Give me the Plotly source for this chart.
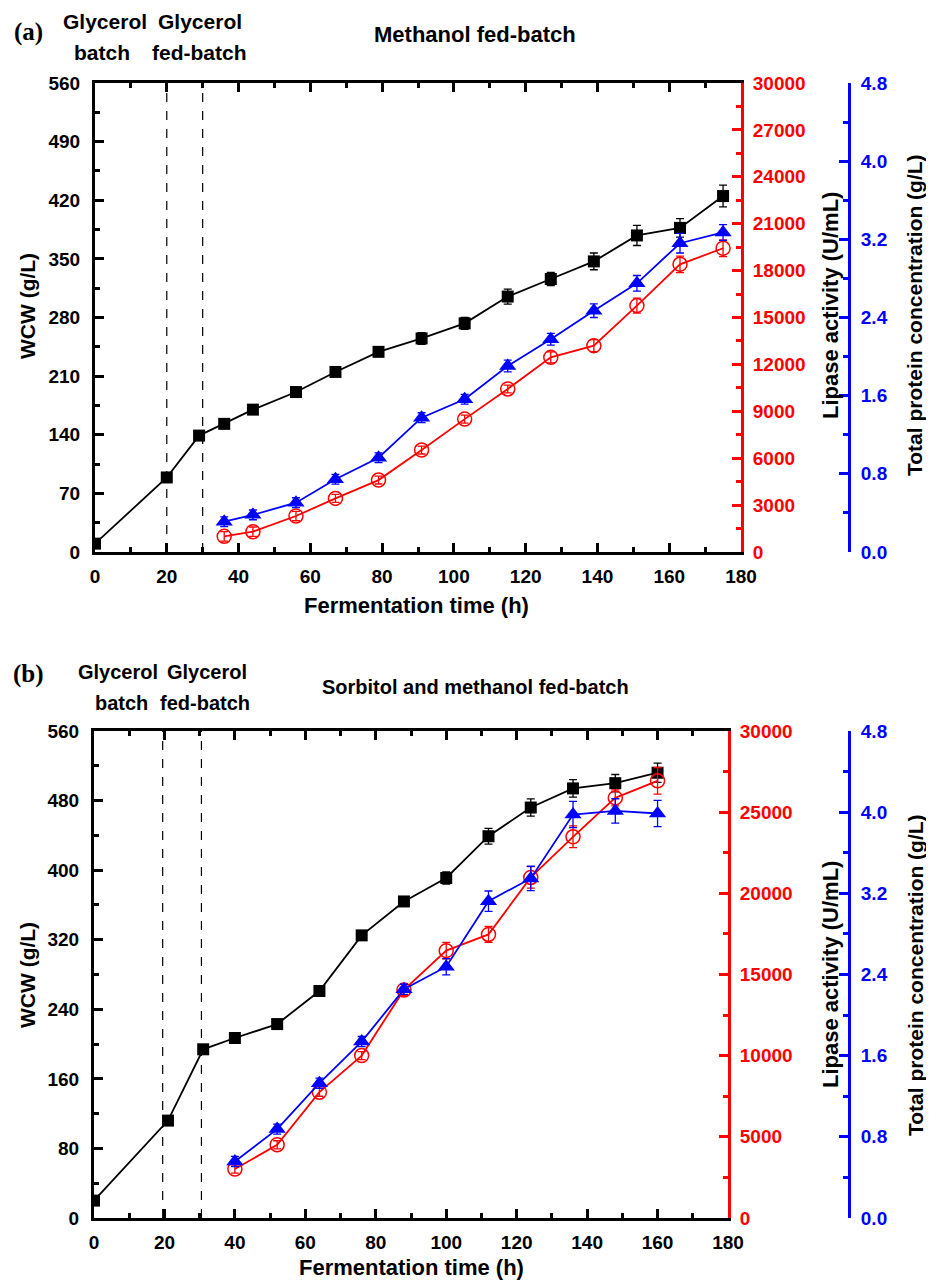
import plotly.graph_objects as go

W, H = 934, 1282
PAGE_MARGIN = 8          # default <body> margin of the written page
FW, FH = W - PAGE_MARGIN, H - PAGE_MARGIN

# ---------------- data: panel (a) methanol fed-batch ----------------
time_a = [0, 20, 29, 36, 44, 56, 67, 79, 91, 103, 115, 127, 139, 151, 163, 175]
wcw_a = [10, 89, 139, 153, 170, 191, 215, 239, 255, 273, 305, 326, 347, 378, 387, 425]
wcw_err_a = [2, 3, 3, 3, 3, 4, 4, 5, 7, 7, 9, 8, 10, 12, 11, 13]

time_a_prod = [36, 44, 56, 67, 79, 91, 103, 115, 127, 139, 151, 163, 175]
lipase_a = [1000, 1300, 2300, 3430, 4600, 6520, 8500, 10430, 12450, 13200, 15760, 18400, 19430]
lipase_err_a = [300, 300, 300, 250, 250, 250, 250, 250, 350, 380, 480, 530, 530]
protein_a = [0.31, 0.38, 0.505, 0.745, 0.965, 1.375, 1.563, 1.904, 2.177, 2.47, 2.75, 3.16, 3.27]
protein_err_a = [0.05, 0.05, 0.05, 0.05, 0.05, 0.05, 0.05, 0.06, 0.06, 0.07, 0.08, 0.1, 0.08]

# ---------------- data: panel (b) sorbitol and methanol fed-batch ----------------
time_b = [0, 21, 31, 40, 52, 64, 76, 88, 100, 112, 124, 136, 148, 160]
wcw_b = [20, 112, 194, 207, 223, 261, 325, 364, 391, 439, 472, 494, 500, 512]
wcw_err_b = [2, 3, 3, 3, 3, 4, 4, 5, 7, 9, 10, 10, 10, 11]

time_b_prod = [40, 52, 64, 76, 88, 100, 112, 124, 136, 148, 160]
lipase_b = [3015, 4510, 7750, 10005, 14050, 16470, 17470, 20980, 23480, 25880, 26930]
lipase_err_b = [250, 250, 250, 250, 360, 510, 490, 660, 670, 490, 820]
protein_b = [0.557, 0.876, 1.329, 1.739, 2.254, 2.477, 3.123, 3.347, 3.977, 4.012, 3.987]
protein_err_b = [0.05, 0.05, 0.05, 0.05, 0.05, 0.08, 0.1, 0.12, 0.13, 0.12, 0.13]

phase_bounds_a = [20, 30]
phase_bounds_b = [19.5, 30.5]

FONT = "Liberation Sans, Arial, sans-serif"
SERIF = "Liberation Serif, Times New Roman, serif"


def px(x):
    return (x - PAGE_MARGIN) / FW


def py(y):
    return 1 - (y - PAGE_MARGIN) / FH


fig = go.Figure()


def add_panel(t, wcw, wcw_err, tp, lip, lip_err, prot, prot_err, xa, ya, ya2, ya3):
    fig.add_trace(go.Scatter(
        x=t, y=wcw, xaxis=xa, yaxis=ya, mode="lines+markers",
        line=dict(color="black", width=1.8),
        marker=dict(symbol="square", size=12, color="black"),
        error_y=dict(type="data", array=wcw_err, color="black", thickness=1.3, width=4),
        showlegend=False))
    fig.add_trace(go.Scatter(
        x=tp, y=lip, xaxis=xa, yaxis=ya2, mode="lines+markers",
        line=dict(color="#ff0000", width=1.8),
        marker=dict(symbol="circle-open", size=14, color="#ff0000", line=dict(width=1.5)),
        error_y=dict(type="data", array=lip_err, color="#ff0000", thickness=1.3, width=4),
        showlegend=False))
    fig.add_trace(go.Scatter(
        x=tp, y=prot, xaxis=xa, yaxis=ya3, mode="lines+markers",
        line=dict(color="#0000ff", width=1.8),
        marker=dict(symbol="triangle-up", size=15, color="#0000ff"),
        error_y=dict(type="data", array=prot_err, color="#0000ff", thickness=1.3, width=4),
        showlegend=False))


add_panel(time_a, wcw_a, wcw_err_a, time_a_prod, lipase_a, lipase_err_a,
          protein_a, protein_err_a, "x", "y", "y2", "y3")
add_panel(time_b, wcw_b, wcw_err_b, time_b_prod, lipase_b, lipase_err_b,
          protein_b, protein_err_b, "x2", "y4", "y5", "y6")

tickfont = dict(family=FONT, size=19, color="black", weight="bold")


def xaxis(domain, anchor):
    return dict(domain=domain, anchor=anchor, range=[0, 180], tickmode="linear", tick0=0, dtick=20,
                ticks="inside", ticklen=9, tickwidth=2.5, tickcolor="black",
                minor=dict(ticks="inside", ticklen=5, tickwidth=2.5, dtick=10, tick0=0, tickcolor="black"),
                showline=True, linewidth=3, linecolor="black", mirror="ticks",
                showgrid=False, zeroline=False, tickfont=tickfont, ticklabelstandoff=5)


def yleft(domain, anchor, dtick, top):
    return dict(domain=domain, anchor=anchor, range=[0, top], tickmode="linear", tick0=0, dtick=dtick,
                ticks="inside", ticklen=9, tickwidth=2.5, tickcolor="black",
                minor=dict(ticks="inside", ticklen=5, tickwidth=2.5, dtick=dtick / 2, tick0=0, tickcolor="black"),
                showline=True, linewidth=3, linecolor="black", showgrid=False, zeroline=False,
                tickfont=tickfont, ticklabelstandoff=8)


def yred(overlay, anchor, dtick):
    return dict(overlaying=overlay, anchor=anchor, side="right", range=[0, 30000],
                tickmode="linear", tick0=0, dtick=dtick, tickformat="d",
                ticks="inside", ticklen=9, tickwidth=2.5, tickcolor="#ff0000",
                minor=dict(ticks="inside", ticklen=5, tickwidth=2.5, dtick=dtick / 2, tick0=0, tickcolor="#ff0000"),
                showline=True, linewidth=3, linecolor="#ff0000", showgrid=False, zeroline=False,
                tickfont=dict(family=FONT, size=19, color="#ff0000", weight="bold"), ticklabelstandoff=5)


def yblue(overlay, pos):
    return dict(overlaying=overlay, anchor="free", position=pos, side="right", range=[0, 4.8],
                tickmode="linear", tick0=0, dtick=0.8, tickformat=".1f",
                ticks="inside", ticklen=9, tickwidth=2.5, tickcolor="#0000ff",
                minor=dict(ticks="inside", ticklen=5, tickwidth=2.5, dtick=0.4, tick0=0, tickcolor="#0000ff"),
                showline=True, linewidth=3, linecolor="#0000ff", showgrid=False, zeroline=False,
                tickfont=dict(family=FONT, size=19, color="#0000ff", weight="bold"), ticklabelstandoff=6)


dom_xa = [px(95), px(741)]
dom_ya = [py(552), py(83)]
dom_xb = [px(94), px(728)]
dom_yb = [py(1218), py(731)]

fig.update_layout(
    width=FW, height=FH, margin=dict(l=0, r=0, t=0, b=0),
    paper_bgcolor="white", plot_bgcolor="white", template="none",
    xaxis=xaxis(dom_xa, "y"),
    yaxis=yleft(dom_ya, "x", 70, 560),
    yaxis2=yred("y", "x", 3000),
    yaxis3=yblue("y", px(849)),
    xaxis2=xaxis(dom_xb, "y4"),
    yaxis4=yleft(dom_yb, "x2", 80, 560),
    yaxis5=yred("y4", "x2", 5000),
    yaxis6=yblue("y4", px(849)),
)

shapes = []
for xv in phase_bounds_a:
    shapes.append(dict(type="line", xref="x", yref="y domain", x0=xv, x1=xv, y0=0, y1=1,
                       line=dict(color="black", width=1.2, dash="dash")))
for xv in phase_bounds_b:
    shapes.append(dict(type="line", xref="x2", yref="y4 domain", x0=xv, x1=xv, y0=0, y1=1,
                       line=dict(color="black", width=1.2, dash="dash")))
fig.update_layout(shapes=shapes)


def ann(text, x, y, size=20, color="black", angle=0, family=FONT):
    fig.add_annotation(text=text, x=px(x), y=py(y), xref="paper", yref="paper",
                       showarrow=False, textangle=angle, xanchor="center", yanchor="middle",
                       font=dict(family=family, size=size, color=color, weight="bold"))


# panel (a) texts
ann("(a)", 28, 32, size=25, family=SERIF)
ann("Glycerol", 105, 22, size=21)
ann("Glycerol", 200, 22, size=21)
ann("batch", 102, 52, size=21)
ann("fed-batch", 199, 52, size=21)
ann("Methanol fed-batch", 475, 35, size=22)
ann("WCW (g/L)", 27, 306, size=21, angle=-90)
ann("Lipase activity (U/mL)", 830, 306, size=22, angle=-90)
ann("Total protein concentration (g/L)", 915, 315, size=21, angle=-90)
ann("Fermentation time (h)", 416, 605, size=22)

# panel (b) texts
ann("(b)", 28, 674, size=25, family=SERIF)
ann("Glycerol", 118, 672, size=20)
ann("Glycerol", 207, 672, size=20)
ann("batch", 121, 703, size=20)
ann("fed-batch", 205, 703, size=20)
ann("Sorbitol and methanol fed-batch", 475, 687, size=20)
ann("WCW (g/L)", 27, 975, size=21, angle=-90)
ann("Lipase activity (U/mL)", 830, 975, size=22, angle=-90)
ann("Total protein concentration (g/L)", 915, 975, size=21, angle=-90)
ann("Fermentation time (h)", 411, 1267, size=22)

fig.write_html("out.html")
